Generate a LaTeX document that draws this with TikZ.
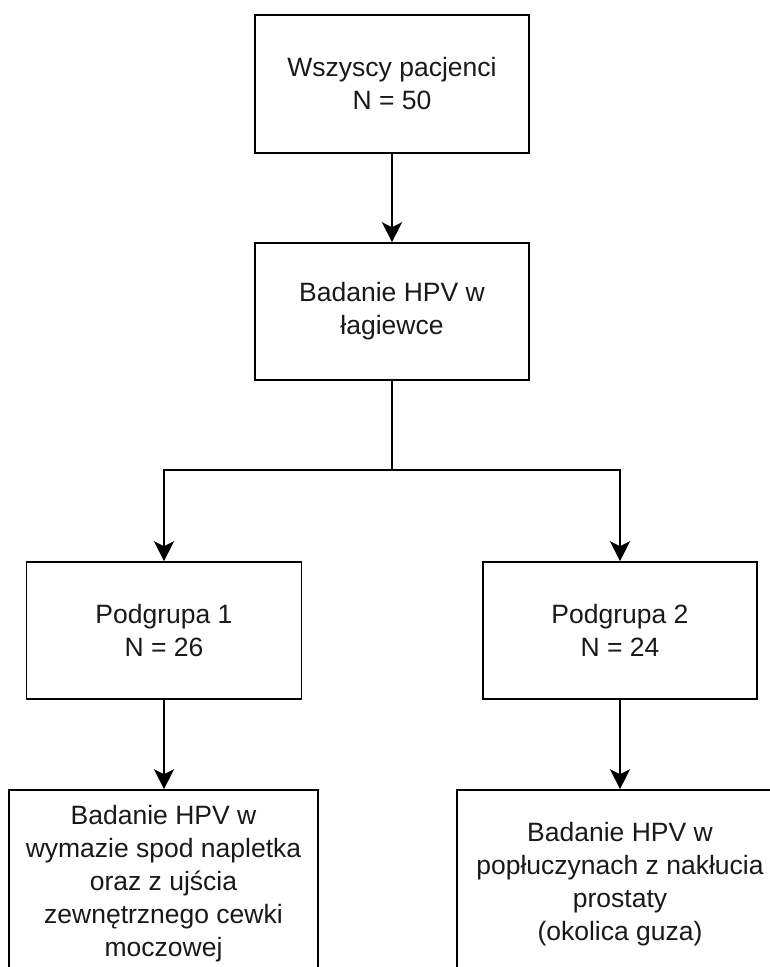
\documentclass[tikz,border=0pt]{standalone}
\usepackage{fontspec}
\setmainfont{Liberation Sans}
\usetikzlibrary{arrows.meta}
\begin{document}
\begin{tikzpicture}[x=1pt,y=-1pt,
  box/.style={draw=black, line width=1.6pt, fill=white, inner sep=0pt, align=center,
    font=\fontsize{26.5}{33}\selectfont, text=black!90},
  arr/.style={draw=black, line width=1.6pt, -{Stealth[length=20pt,width=20pt,inset=5pt]}},
  ln/.style={draw=black, line width=1.6pt}]
\useasboundingbox[fill=white] (0,0) rectangle (770,967);
\node[box, minimum width=274pt, minimum height=138pt] (top) at (392,84) {Wszyscy pacjenci\\N = 50};
\node[box, minimum width=274pt, minimum height=137pt] (hpv) at (392,311.5) {Badanie HPV w\\łagiewce};
\node[box, minimum width=275pt, minimum height=137pt] (p1) at (164,630.5) {Podgrupa 1\\N = 26};
\node[box, minimum width=274pt, minimum height=137pt] (p2) at (620,630.5) {Podgrupa 2\\N = 24};
\node[box, minimum width=309pt, minimum height=188pt] (b1) at (163.5,884) {Badanie HPV w\\wymazie spod napletka\\oraz z ujścia\\zewnętrznego cewki\\moczowej};
\node[box, minimum width=326pt, minimum height=188pt] (b2) at (620,884) {Badanie HPV w\\popłuczynach z nakłucia\\prostaty\\(okolica guza)};
\coordinate (j) at (392,470);
\draw[arr] (top.south) -- (hpv.north);
\draw[ln] (hpv.south) -- (j);
\draw[arr] (j) -| (p1.north);
\draw[arr] (j) -| (p2.north);
\draw[arr] (p1.south) -- (p1.south |- b1.north);
\draw[arr] (p2.south) -- (p2.south |- b2.north);
\end{tikzpicture}
\end{document}
